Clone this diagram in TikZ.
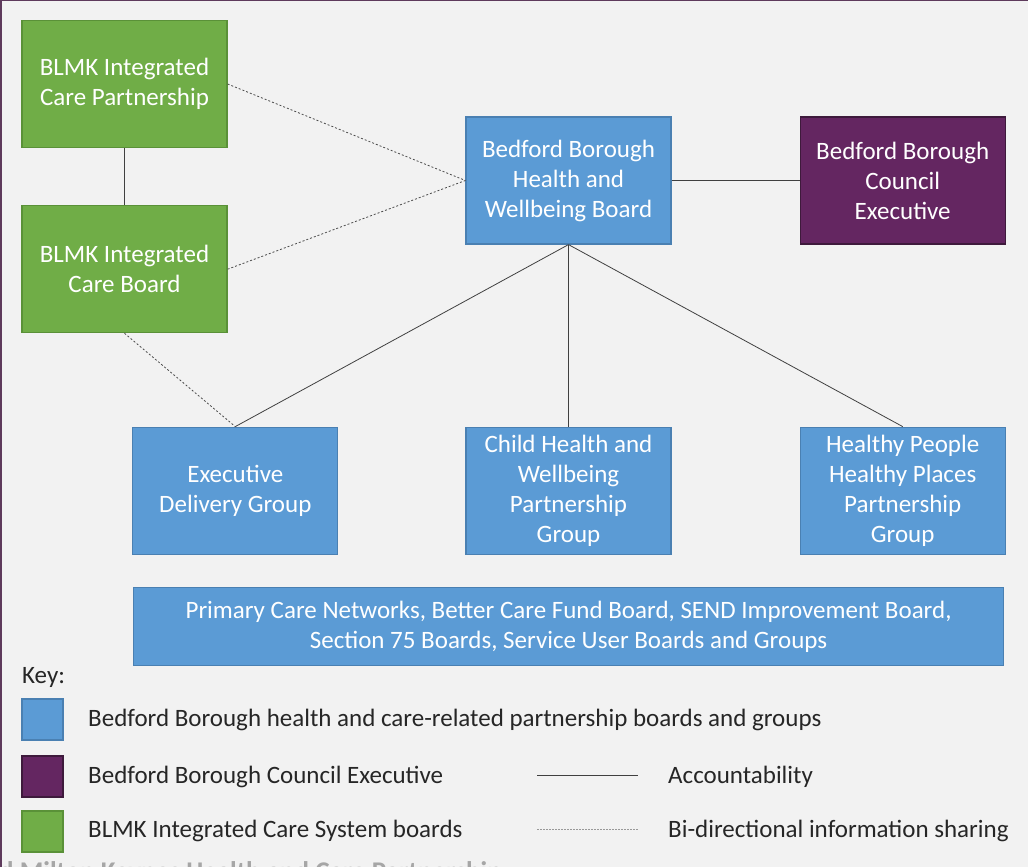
\documentclass[tikz,border=0pt]{standalone}
\usepackage{fontspec}
\setmainfont{Carlito}
\usetikzlibrary{positioning}
\definecolor{bgGrey}{HTML}{F2F2F2}
\definecolor{frameLine}{HTML}{5E3A5C}
\definecolor{hwbBlue}{HTML}{5B9BD5}
\definecolor{hwbBlueLine}{HTML}{4A80B2}
\definecolor{icsGreen}{HTML}{70AD47}
\definecolor{icsGreenLine}{HTML}{5A9138}
\definecolor{bbcPurple}{HTML}{642661}
\definecolor{bbcPurpleLine}{HTML}{3E1A3C}
\definecolor{keyText}{HTML}{262626}
\tikzset{
x=1pt, y=-1pt, % one unit is one pixel of the page, y runs downwards
board/.style={draw, line width=1.2pt, minimum width=205pt, minimum height=127pt, inner sep=2pt, align=center, text=white, font=\fontsize{25}{30}\selectfont}, % sets the properties for each board
blueboard/.style={board, fill=hwbBlue, draw=hwbBlueLine},
greenboard/.style={board, fill=icsGreen, draw=icsGreenLine},
purpleboard/.style={board, fill=bbcPurple, draw=bbcPurpleLine},
keybox/.style={draw, line width=1.2pt, minimum width=41pt, minimum height=41pt, inner sep=0pt},
keylabel/.style={anchor=west, inner sep=0pt, text=keyText, font=\fontsize{25}{30}\selectfont},
account/.style={draw=black!75, line width=0.8pt}, % solid line: accountability
sharing/.style={draw=black!70, line width=0.8pt, dash pattern=on 2pt off 2pt}, % dotted line: information sharing
}

\begin{document}
\begin{tikzpicture}
\useasboundingbox (0,0) rectangle (1028,867);
\clip (0,0) rectangle (1028,867);
\fill[bgGrey] (0,0) rectangle (1028,867);
\draw[frameLine, line width=1.5pt] (0.75,867) -- (0.75,0.75) -- (1028,0.75);

% boards
\node[blueboard] (hwb) at (568.5,180.5) {Bedford Borough\\Health and\\Wellbeing Board};
\node[purpleboard, right=128pt of hwb] (council) {Bedford Borough\\Council\\Executive};
\node[greenboard] (icp) at (124.5,84) {BLMK Integrated\\Care Partnership};
\node[greenboard, below=57pt of icp] (icb) {BLMK Integrated\\Care Board};
\node[blueboard, below=182pt of hwb] (child) {Child Health and\\Wellbeing\\Partnership\\Group};
\node[blueboard, left=127pt of child] (exec) {Executive\\Delivery Group};
\node[blueboard, below=182pt of council] (healthy) {Healthy People\\Healthy Places\\Partnership\\Group};
\node[blueboard, minimum width=870pt, minimum height=78pt, below=32pt of child] (others) {Primary Care Networks, Better Care Fund Board, SEND Improvement Board,\\Section 75 Boards, Service User Boards and Groups};

% connectors
\draw[account] (icp) -- (icb);
\draw[sharing] (icp.east) -- (hwb.west);
\draw[sharing] (icb.east) -- (hwb.west);
\draw[account] (hwb) -- (council);
\draw[account] (hwb.south) -- (exec.north);
\draw[account] (hwb.south) -- (child.north);
\draw[account] (hwb.south) -- (healthy.north);
\draw[sharing] (icb.south) -- (exec.north);

% key
\node[keylabel] (keytitle) at (22,677) {Key:};
\node[keybox, fill=hwbBlue, draw=hwbBlueLine] (keyblue) at (42.5,719.5) {};
\node[keybox, fill=bbcPurple, draw=bbcPurpleLine] (keypurple) at (42.5,776.5) {};
\node[keybox, fill=icsGreen, draw=icsGreenLine] (keygreen) at (42.5,831.5) {};
\node[keylabel] (keybluetext) at (88,720) {Bedford Borough health and care-related partnership boards and groups};
\node[keylabel] (keypurpletext) at (88,777) {Bedford Borough Council Executive};
\node[keylabel] (keygreentext) at (88,831) {BLMK Integrated Care System boards};
\coordinate (accstart) at (537,775);
\coordinate (accend) at (638,775);
\coordinate (sharestart) at (537,829);
\coordinate (shareend) at (638,829);
\draw[account] (accstart) -- (accend);
\draw[sharing, draw=black!40, dash pattern=on 1.5pt off 1.5pt] (sharestart) -- (shareend);
\node[keylabel] (acctext) at (668,777) {Accountability};
\node[keylabel] (sharetext) at (668,831) {Bi-directional information sharing};

% cut-off footer
\node[anchor=base west, inner sep=0pt, text=black!35, font=\bfseries\fontsize{27}{32}\selectfont] (footer) at (-1,880) {d Milton Keynes Health and Care Partnership};
\end{tikzpicture}
\end{document}
